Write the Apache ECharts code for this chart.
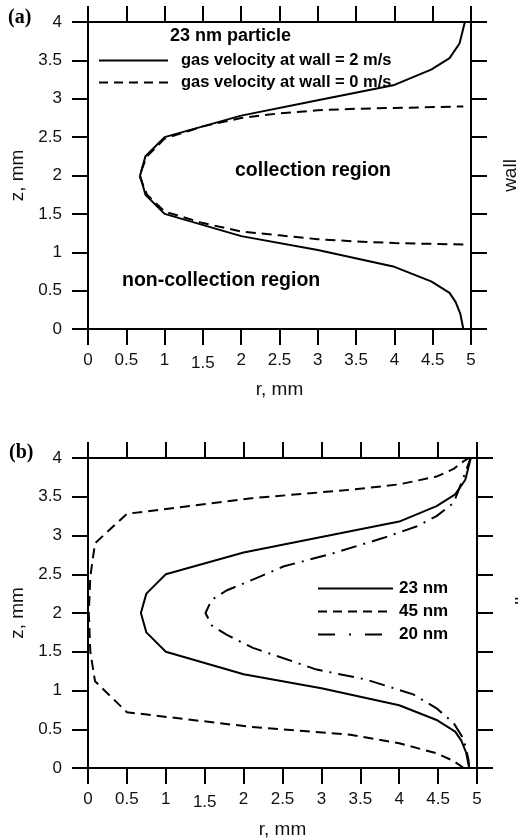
<!DOCTYPE html>
<html><head><meta charset="utf-8">
<script src="https://cdn.jsdelivr.net/npm/echarts@6/dist/echarts.min.js"></script>
<style>html,body{margin:0;padding:0;background:#fff}#c{width:518px;height:840px}</style>
</head><body><div id="c"></div>
<script>
// tick labels
const xTickLabels = ['0','0.5','1','1.5','2','2.5','3','3.5','4','4.5','5'];
const yTickLabels = ['0','0.5','1','1.5','2','2.5','3','3.5','4'];

// panel (a): 23 nm particle
const r2ms = [4.9, 4.86, 4.8, 4.72, 4.48, 4.0, 3.0, 2.0, 1.0, 0.75, 0.68, 0.75, 1.0, 2.0, 3.0, 4.0, 4.48, 4.72, 4.85, 4.92];
const z2ms = [0.0, 0.2, 0.35, 0.47, 0.62, 0.81, 1.03, 1.21, 1.5, 1.75, 2.0, 2.25, 2.5, 2.78, 2.98, 3.18, 3.38, 3.53, 3.72, 4.0];
const r0ms = [4.9, 4.0, 3.5, 3.0, 2.5, 2.0, 1.5, 1.0, 0.77, 0.67, 0.77, 1.0, 1.5, 2.0, 2.5, 3.0, 3.5, 4.0, 4.9];
const z0ms = [1.10, 1.12, 1.14, 1.17, 1.22, 1.27, 1.38, 1.53, 1.75, 2.0, 2.25, 2.48, 2.64, 2.75, 2.81, 2.85, 2.87, 2.88, 2.9];

// panel (b): particle sizes
const r23 = [4.9, 4.86, 4.8, 4.72, 4.48, 4.0, 3.0, 2.0, 1.0, 0.75, 0.68, 0.75, 1.0, 2.0, 3.0, 4.0, 4.48, 4.72, 4.85, 4.92];
const z23 = [0.0, 0.2, 0.35, 0.47, 0.62, 0.81, 1.03, 1.21, 1.5, 1.75, 2.0, 2.25, 2.5, 2.78, 2.98, 3.18, 3.38, 3.53, 3.72, 4.0];
const r45 = [4.83, 4.7, 4.48, 4.0, 3.37, 2.1, 0.5, 0.09, 0.03, 0.01, 0.03, 0.09, 0.5, 2.1, 3.37, 4.0, 4.48, 4.7, 4.83, 4.9];
const z45 = [0.0, 0.09, 0.19, 0.32, 0.43, 0.53, 0.72, 1.12, 1.5, 2.0, 2.47, 2.9, 3.28, 3.48, 3.59, 3.66, 3.76, 3.86, 3.96, 4.0];
const r20 = [4.9, 4.89, 4.83, 4.70, 4.48, 4.18, 3.58, 2.94, 2.12, 1.78, 1.59, 1.51, 1.59, 1.78, 2.21, 2.51, 3.15, 3.8, 4.23, 4.48, 4.70, 4.83, 4.91, 4.92];
const z20 = [0.0, 0.11, 0.37, 0.58, 0.77, 0.95, 1.14, 1.27, 1.55, 1.72, 1.84, 2.0, 2.17, 2.29, 2.47, 2.60, 2.77, 2.97, 3.12, 3.25, 3.42, 3.76, 3.98, 4.0];

const zip = (r, z) => r.map((v, i) => [v, z[i]]);
const FONT = '"Liberation Sans", Arial, Helvetica, sans-serif';
const BLACK = '#000';

function xAx(grid, pos, show, nameGap) {
  return {
    type: 'value', gridIndex: grid, position: pos, min: 0, max: 5, interval: 0.5,
    axisLine: { show: true, onZero: false, lineStyle: { color: BLACK, width: 2 } },
    axisTick: { show: true, inside: false, length: 16, lineStyle: { color: BLACK, width: 2 } },
    splitLine: { show: false },
    axisLabel: {
      show: show, margin: 23, fontSize: 17, fontFamily: FONT, color: '#111',
      formatter: v => { const s = xTickLabels[Math.round(v / 0.5)]; return s === '1.5' ? '{low|' + s + '}' : s; },
      rich: { low: { fontSize: 17, fontFamily: FONT, color: '#111', padding: [3, 0, 0, 0] } }
    },
    name: show ? 'r, mm' : '', nameLocation: 'middle', nameGap: nameGap,
    nameTextStyle: { fontSize: 19, fontFamily: FONT, color: '#111' }
  };
}
function yAx(grid, pos, show, name, nameGap) {
  return {
    type: 'value', gridIndex: grid, position: pos, min: 0, max: 4, interval: 0.5,
    axisLine: { show: true, onZero: false, lineStyle: { color: BLACK, width: 2 } },
    axisTick: { show: true, inside: false, length: 16, lineStyle: { color: BLACK, width: 2 } },
    splitLine: { show: false },
    axisLabel: {
      show: show, margin: 26, fontSize: 17, fontFamily: FONT, color: '#111',
      formatter: v => yTickLabels[Math.round(v / 0.5)]
    },
    name: name, nameLocation: 'middle', nameGap: nameGap, nameRotate: 90,
    nameTextStyle: { fontSize: 19, fontFamily: FONT, color: '#111' }
  };
}
function ser(name, xi, r, z, type) {
  return {
    name: name, type: 'line', xAxisIndex: xi, yAxisIndex: xi,
    data: zip(r, z), symbol: 'none', showSymbol: false, smooth: false,
    lineStyle: { color: BLACK, width: 2, type: type }, itemStyle: { color: BLACK },
    animation: false
  };
}

const chart = echarts.init(document.getElementById('c'), null, { renderer: 'canvas' });
chart.setOption({
  backgroundColor: '#fff',
  animation: false,
  grid: [
    { left: 88, top: 22, width: 383, height: 307, containLabel: false, outerBoundsMode: 'none' },
    { left: 88, top: 458, width: 389, height: 310, containLabel: false, outerBoundsMode: 'none' }
  ],
  xAxis: [xAx(0, 'bottom', true, 51), xAx(0, 'top', false, 0), xAx(1, 'bottom', true, 52), xAx(1, 'top', false, 0)],
  yAxis: [yAx(0, 'left', true, 'z, mm', 61), yAx(0, 'right', false, 'wall', 30), yAx(1, 'left', true, 'z, mm', 61), yAx(1, 'right', false, 'wall', 36)],
  legend: [
    {
      data: ['gas velocity at wall = 2 m/s', { name: 'gas velocity at wall = 0 m/s', lineStyle: { type: [9, 6] } }],
      left: 98, top: 52, padding: 0, orient: 'vertical', itemWidth: 69, itemHeight: 14, itemGap: 5,
      selectedMode: false, itemStyle: { opacity: 0 },
      textStyle: { fontSize: 16.5, fontWeight: 'bold', fontFamily: FONT, color: BLACK, lineHeight: 16, padding: [0, 0, 0, 8] }
    },
    {
      data: ['23 nm', { name: '45 nm', lineStyle: { type: [9, 6] } }, { name: '20 nm', lineStyle: { type: [17, 14, 2, 14] } }],
      left: 317, top: 580, padding: 0, orient: 'vertical', itemWidth: 75, itemHeight: 14, itemGap: 6,
      selectedMode: false, itemStyle: { opacity: 0 },
      textStyle: { fontSize: 17, fontWeight: 'bold', fontFamily: FONT, color: BLACK, lineHeight: 17, padding: [0, 0, 0, 1] }
    }
  ],
  series: [
    ser('gas velocity at wall = 2 m/s', 0, r2ms, z2ms, 'solid'),
    ser('gas velocity at wall = 0 m/s', 0, r0ms, z0ms, [10, 6]),
    ser('23 nm', 2, r23, z23, 'solid'),
    ser('45 nm', 2, r45, z45, [10, 6]),
    ser('20 nm', 2, r20, z20, [16, 7, 2, 7])
  ],
  graphic: [
    { type: 'text', left: 8, top: 8, style: { text: '(a)', font: 'bold 20px "Liberation Serif", "Times New Roman", serif', fill: BLACK } },
    { type: 'text', left: 9, top: 443, style: { text: '(b)', font: 'bold 20px "Liberation Serif", "Times New Roman", serif', fill: BLACK } },
    { type: 'text', left: 170, top: 27, style: { text: '23 nm particle', font: 'bold 18px ' + FONT, fill: BLACK } },
    { type: 'text', left: 235, top: 161, style: { text: 'collection region', font: 'bold 19.5px ' + FONT, fill: BLACK } },
    { type: 'text', left: 122, top: 271, style: { text: 'non-collection region', font: 'bold 19.5px ' + FONT, fill: BLACK } }
  ]
});
</script>
</body></html>
